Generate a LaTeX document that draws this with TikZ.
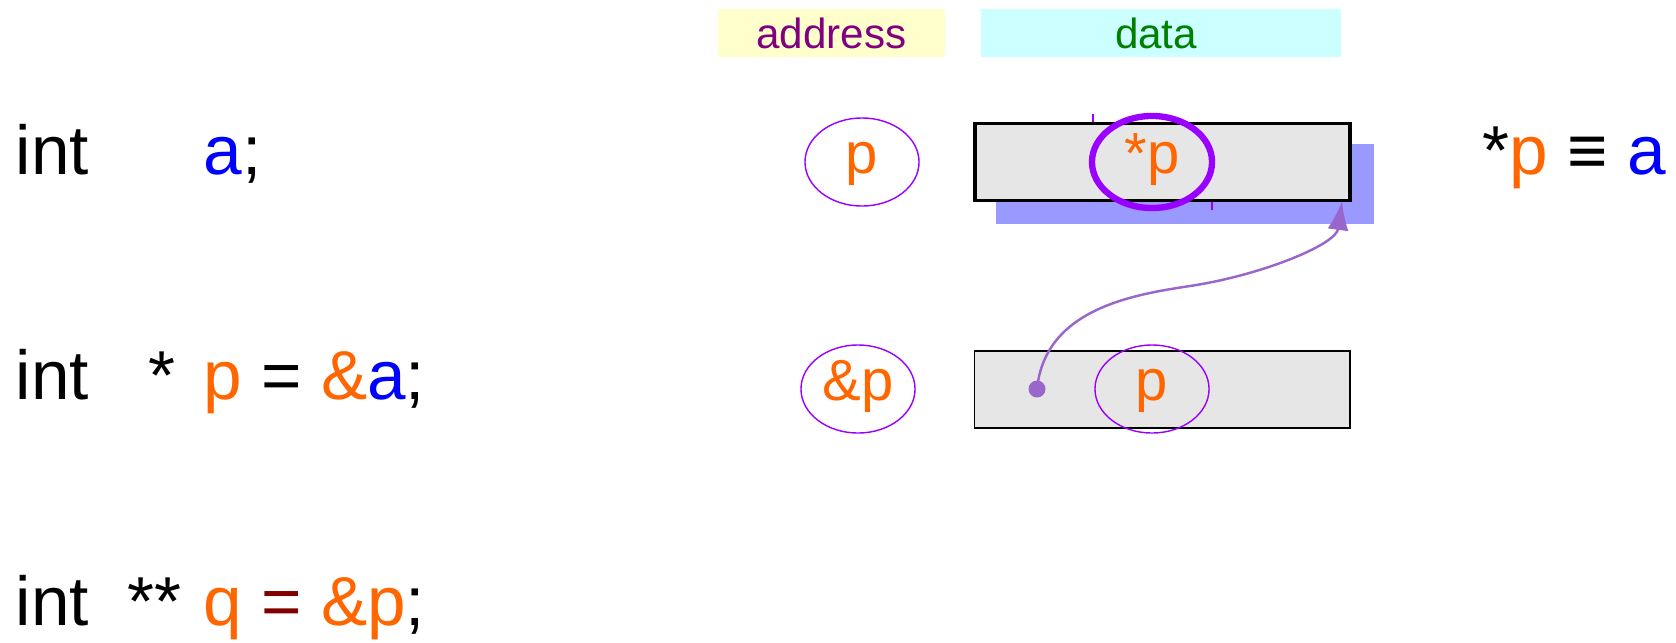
\documentclass[tikz,border=0pt]{standalone}
\usepackage{fontspec}
\setmainfont{Liberation Sans}
\usetikzlibrary{arrows.meta,shapes.geometric,positioning}
\definecolor{ptrorange}{HTML}{FF6600}
\definecolor{varblue}{HTML}{0000FF}
\definecolor{eqred}{HTML}{800000}
\definecolor{addrpurple}{HTML}{800080}
\definecolor{datagreen}{HTML}{008000}
\definecolor{ringpurple}{HTML}{9900FF}
\definecolor{linkpurple}{HTML}{9966CC}
\definecolor{cellgray}{HTML}{E6E6E6}
\definecolor{shadowblue}{HTML}{9999FF}
\definecolor{addryellow}{HTML}{FFFFCC}
\definecolor{datacyan}{HTML}{CCFFFF}
\newcommand{\codefont}{\fontsize{19.7}{24}\selectfont}
\newcommand{\cellfont}{\fontsize{16.5}{20}\selectfont}

\begin{document}
\begin{tikzpicture}[x=0.01cm, y=-0.01cm,
  code/.style={anchor=base west, inner sep=0pt, font=\codefont},
  header/.style={inner sep=0pt, minimum height=0.48cm, font=\fontsize{12}{14}\selectfont},
  cell/.style={draw, fill=cellgray, inner sep=0pt, minimum width=3.75cm, minimum height=0.77cm},
  ring/.style={ellipse, draw=ringpurple, line width=0.4pt, inner sep=0pt,
    minimum width=1.14cm, minimum height=0.88cm, text=ptrorange, font=\cellfont,
    text height=0.85em, text depth=0.21em},
  >={Latex[length=2.9mm, width=2.1mm]}]
\path[use as bounding box] (0,0) rectangle (1676,642);
% headers
\node[header, fill=addryellow, minimum width=2.27cm, text=addrpurple] (addr) at (831.5,33) {address};
\node[header, fill=datacyan, minimum width=3.6cm, text=datagreen] (data) at (1161,33) {data\hspace*{2.8pt}};
% source lines
\node[code] (int1) at (15,174) {int};
\node[code] (line1) at (203,174) {{\color{varblue}a};};
\node[code] (int2) at (15,399) {int};
\node[code] (star2) at (148,399) {*};
\node[code] (line2) at (203,399) {{\color{ptrorange}p} = {\color{ptrorange}\&}{\color{varblue}a};};
\node[code] (int3) at (15,625) {int};
\node[code] (star3) at (127,625) {**};
\node[code] (line3) at (203,625) {{\color{ptrorange}q} {\color{eqred}=} {\color{ptrorange}\&p};};
% memory of a
\node[fill=shadowblue, inner sep=0pt, minimum width=3.78cm, minimum height=0.8cm] (shadow) at (1185,184) {};
\node[cell, line width=1.1pt] (cellA) at (1162.5,162) {};
\node[ring] (addrP) at (862,162) {p};
\node[ring, draw=ringpurple, line width=1.8pt, minimum width=1.2cm, minimum height=0.92cm] (derefP) at (1152,162) {*p};
\draw[ringpurple, line width=0.5pt] (derefP.west |- cellA.north) ++(4,0) -- ++(0,-8);
\draw[ringpurple, line width=0.5pt] (derefP.east |- cellA.south) ++(-3,0) -- ++(0,8);
\node[code, anchor=base west] (alias) at (1482,174) {*{\color{ptrorange}p} ≡ {\color{varblue}a}};
% memory of p
\node[cell, line width=0.5pt] (cellP) at (1162,389.5) {};
\node[ring] (addrAmpP) at (858,389) {\&p};
\node[ring] (valP) at (1152,389) {p};
\node[circle, fill=linkpurple, inner sep=0pt, minimum size=0.17cm] (dot) at (1037,389) {};
\coordinate (tip) at (1342,201);
\draw[->, linkpurple, line width=0.7pt] (dot.center) .. controls (1045,310) and (1130,295) .. (1190,286)
  .. controls (1260,275.5) and (1336,245) .. (tip);
\end{tikzpicture}
\end{document}
